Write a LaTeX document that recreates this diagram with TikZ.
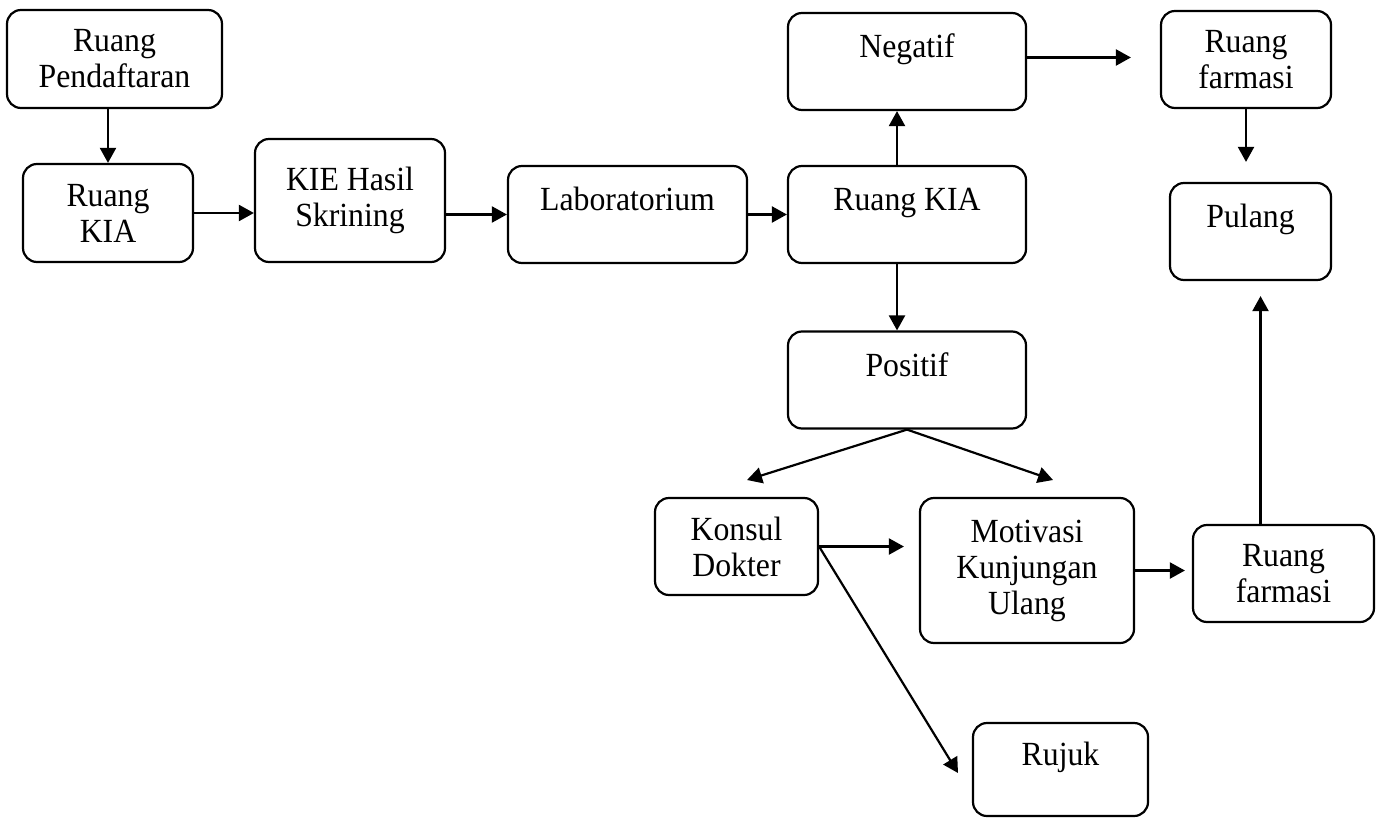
\documentclass[tikz,border=0pt]{standalone}
\usepackage{fontspec}
\setmainfont{Liberation Serif}[FakeStretch=0.94]
\usetikzlibrary{arrows.meta}

\tikzset{
  room/.style={draw, rounded corners=7pt, align=center, inner sep=2pt,
    font=\fontsize{16.9}{18}\selectfont},
  oneline/.style={room, text height=12pt, text depth=16pt}
}

\begin{document}
\begin{tikzpicture}[x=0.5pt, y=-0.5pt, line width = 1.1pt, >={Triangle[length=7.5pt,width=8pt]}]

\useasboundingbox (0,0) rectangle (1384,818);

\node [room, minimum width=107.5pt, minimum height=49pt] (daftar) at (114.5,59) {Ruang\\Pendaftaran};
\node [room, minimum width=85pt, minimum height=49pt] (kiaA) at (108,213) {Ruang\\KIA};
\node [room, minimum width=95pt, minimum height=61.5pt] (kie) at (350,200.5) {KIE Hasil\\Skrining};
\node [oneline, minimum width=119.5pt, minimum height=48.5pt] (lab) at (627.5,214.5) {Laboratorium};
\node [oneline, minimum width=119pt, minimum height=48.5pt] (kiaB) at (907,214.5) {Ruang KIA};
\node [oneline, minimum width=119pt, minimum height=48.5pt] (negatif) at (907,61.5) {Negatif};
\node [room, minimum width=85pt, minimum height=48.5pt] (farmasiA) at (1246,59.5) {Ruang\\farmasi};
\node [oneline, minimum width=80.5pt, minimum height=48.5pt] (pulang) at (1250.5,231.5) {Pulang};
\node [oneline, minimum width=119pt, minimum height=48.5pt] (positif) at (907,380) {Positif};
\node [room, minimum width=81.5pt, minimum height=48.5pt] (konsul) at (736.5,546.5) {Konsul\\Dokter};
\node [room, minimum width=107pt, minimum height=72.5pt] (motivasi) at (1027,570.5) {Motivasi\\Kunjungan\\Ulang};
\node [room, minimum width=90.5pt, minimum height=48.5pt] (farmasiB) at (1283.5,573.5) {Ruang\\farmasi};
\node [oneline, minimum width=87.5pt, minimum height=46.5pt] (rujuk) at (1060.5,769.5) {Rujuk};

\coordinate (tipK) at (747,480);
\coordinate (tipM) at (1053,480);
\coordinate (tipR) at (958,773);

\draw[->] (kiaA.north |- daftar.south) -- (kiaA.north);
\draw[->] (kiaA.east) -- (kiaA.east -| kie.west);
\draw[->] (lab.west -| kie.east) -- (lab.west);
\draw[->] (lab.east) -- (kiaB.west);
\draw[->] ([xshift=-5pt]kiaB.north) -- ([xshift=-5pt]negatif.south);
\draw[->] ([xshift=-5pt]kiaB.south) -- ([xshift=-5pt]positif.north);
\draw[->, shorten >=14.5pt] ([yshift=2pt]negatif.east) -- ([yshift=2pt]negatif.east -| farmasiA.west);
\draw[->, shorten >=10pt] (farmasiA.south) -- (farmasiA.south |- pulang.north);
\draw[->, shorten >=7.5pt] ([xshift=5pt]pulang.south |- farmasiB.north) -- ([xshift=5pt]pulang.south);

\draw[->] (positif.south) -- (tipK);
\draw[->] (positif.south) -- (tipM);
\draw[->, shorten >=7.5pt] (konsul.east) -- (konsul.east -| motivasi.west);
\draw[->] (konsul.east) -- (tipR);
\draw[->, shorten >=3.5pt] (motivasi.east) -- (motivasi.east -| farmasiB.west);

\end{tikzpicture}
\end{document}
